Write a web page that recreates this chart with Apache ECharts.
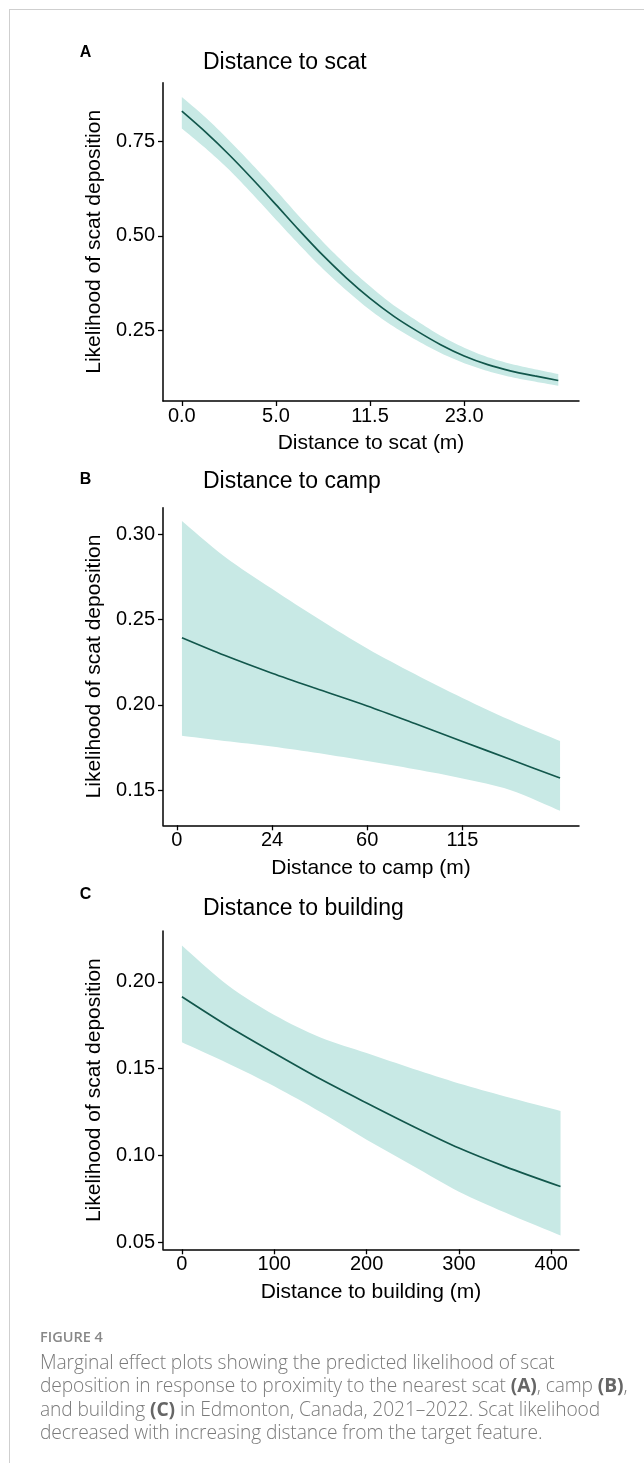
<!DOCTYPE html>
<html><head><meta charset="utf-8">
<script src="https://cdn.jsdelivr.net/npm/echarts@6/dist/echarts.min.js"></script>
<style>
html,body{margin:0;padding:0;background:#fff;}
#frame{position:absolute;left:9px;top:9px;width:640px;height:1460px;border-left:1px solid #cfcfcf;border-top:1px solid #cfcfcf;}
#chart{position:absolute;left:0;top:0;width:644px;height:1463px;}
#cap{position:absolute;left:40px;top:1326px;font-family:'Open Sans',sans-serif;color:#7a7a7a;}
.fig{font-size:14.5px;font-weight:600;color:#888;line-height:22px;}
.txt{font-size:19.2px;font-weight:300;line-height:23.3px;white-space:nowrap;margin-top:2px;letter-spacing:-0.1px;}
.txt b{font-weight:700;color:#666;}
</style></head>
<body>
<div id="frame"></div>
<div id="chart"></div>
<div id="cap"><div class="fig">FIGURE 4</div><div class="txt">Marginal effect plots showing the predicted likelihood of scat<br>deposition in response to proximity to the nearest scat <b>(A)</b>, camp <b>(B)</b>,<br>and building <b>(C)</b> in Edmonton, Canada, 2021–2022. Scat likelihood<br>decreased with increasing distance from the target feature.</div></div>
<script>
// ---- Panel A: distance to scat (x on transformed scale positions) ----
const xPosA = [0,0.25,0.5,0.75,1,1.25,1.5,1.75,2,2.25,2.5,2.75,3,3.25,3.5,3.75,4];
const fitA = [0.831,0.776,0.716,0.651,0.583,0.514,0.448,0.388,0.334,0.287,0.247,0.211,0.181,0.158,0.141,0.128,0.116];
const upA  = [0.869,0.815,0.754,0.689,0.621,0.551,0.484,0.422,0.366,0.316,0.274,0.235,0.203,0.178,0.160,0.146,0.133];
const lowA = [0.785,0.733,0.676,0.611,0.543,0.476,0.412,0.355,0.303,0.259,0.222,0.189,0.162,0.141,0.125,0.113,0.102];
const xTickPosA = [0,1,2,3];
const xTickLabA = ['0.0','5.0','11.5','23.0'];
const yTicksA = [0.25,0.5,0.75];

// ---- Panel B: distance to camp ----
const xPosB = [0.054,0.5,1,1.5,2,2.5,3,3.5,4.025];
const fitB = [0.2393,0.2290,0.2185,0.2088,0.1993,0.1890,0.1785,0.1680,0.1570];
const upB  = [0.3078,0.2870,0.2680,0.2500,0.2330,0.2180,0.2040,0.1910,0.1787];
const lowB = [0.1818,0.1788,0.1755,0.1715,0.1670,0.1622,0.1568,0.1500,0.1378];
const xTickPosB = [0,1,2,3];
const xTickLabB = ['0','24','60','115'];
const yTicksB = [0.15,0.2,0.25,0.3];

// ---- Panel C: distance to building (m) ----
const xPosC = [0,50,100,150,200,250,300,350,410];
const fitC = [0.1915,0.1745,0.1590,0.1440,0.1302,0.1168,0.1042,0.0935,0.0820];
const upC  = [0.2210,0.1980,0.1810,0.1680,0.1590,0.1500,0.1415,0.1340,0.1256];
const lowC = [0.1652,0.1530,0.1398,0.1250,0.1090,0.0940,0.0790,0.0670,0.0538];
const xTickPosC = [0,100,200,300,400];
const xTickLabC = ['0','100','200','300','400'];
const yTicksC = [0.05,0.1,0.15,0.2];

const panels = [
  {letter:'A', title:'Distance to scat', xName:'Distance to scat (m)', x:xPosA, fit:fitA, up:upA, low:lowA,
   xt:xTickPosA, xl:xTickLabA, yt:yTicksA, xmin:-0.2, xmax:4.22, ymin:0.0615, ymax:0.9067,
   top:82.7, h:318.3, ly:53, ty:63},
  {letter:'B', title:'Distance to camp', xName:'Distance to camp (m)', x:xPosB, fit:fitB, up:upB, low:lowB,
   xt:xTickPosB, xl:xTickLabB, yt:yTicksB, xmin:-0.145, xmax:4.224, ymin:0.1293, ymax:0.3156,
   top:507.7, h:317.6, ly:480, ty:481.7},
  {letter:'C', title:'Distance to building', xName:'Distance to building (m)', x:xPosC, fit:fitC, up:upC, low:lowC,
   xt:xTickPosC, xl:xTickLabC, yt:yTicksC, xmin:-20.5, xmax:430, ymin:0.0458, ymax:0.2294,
   top:931, h:318.3, ly:895, ty:908.3}
];

const FONT = 'Liberation Sans, Arial, sans-serif';
const LINE = '#12574c';
const BAND = '#c8e9e5';

// Catmull-Rom smoothing of pixel points (rendering only)
function smoothPts(P){
  const out=[]; const n=P.length; const SEG=8;
  for(let i=0;i<n-1;i++){
    const p0=P[Math.max(i-1,0)], p1=P[i], p2=P[i+1], p3=P[Math.min(i+2,n-1)];
    for(let s=0;s<SEG;s++){
      const t=s/SEG, t2=t*t, t3=t2*t;
      out.push([0,1].map(d=>0.5*((2*p1[d])+(-p0[d]+p2[d])*t+(2*p0[d]-5*p1[d]+4*p2[d]-p3[d])*t2+(-p0[d]+3*p1[d]-3*p2[d]+p3[d])*t3)));
    }
  }
  out.push(P[n-1]);
  return out;
}

const grid=[], xAxis=[], yAxis=[], series=[], graphic=[];
panels.forEach((p,i)=>{
  grid.push({left:163, top:p.top, width:416, height:p.h, containLabel:false});
  const lbl = {};
  p.xt.forEach((v,k)=>{ lbl[v]=p.xl[k]; });
  xAxis.push({type:'value', gridIndex:i, min:p.xmin, max:p.xmax,
    name:p.xName, nameLocation:'middle', nameGap:32,
    nameTextStyle:{fontFamily:FONT, fontSize:21, color:'#000'},
    axisLine:{onZero:false, lineStyle:{color:'#000', width:1.5}},
    axisTick:{customValues:p.xt, length:5, lineStyle:{color:'#000', width:1.3}},
    axisLabel:{customValues:p.xt, margin:5, fontFamily:FONT, fontSize:20, color:'#000',
      formatter:(v)=> lbl[v]!==undefined ? lbl[v] : ''},
    splitLine:{show:false}});
  yAxis.push({type:'value', gridIndex:i, min:p.ymin, max:p.ymax,
    name:'Likelihood of scat deposition', nameLocation:'middle', nameGap:46, nameRotate:90,
    nameTextStyle:{fontFamily:FONT, fontSize:21, color:'#000'},
    axisLine:{show:true, onZero:false, lineStyle:{color:'#000', width:1.5}},
    axisTick:{show:true, customValues:p.yt, length:5, lineStyle:{color:'#000', width:1.3}},
    axisLabel:{customValues:p.yt, margin:8, fontFamily:FONT, fontSize:20, color:'#000',
      formatter:(v)=> v.toFixed(2)},
    splitLine:{show:false}});
  // confidence ribbon: one polygon built through the axis scales (api.coord)
  series.push({type:'custom', xAxisIndex:i, yAxisIndex:i, silent:true, z:1,
    data:[[p.x[0], p.fit[0]]],
    renderItem:(params, api)=>{
      const up = smoothPts(p.x.map((x,k)=>api.coord([x, p.up[k]])));
      const lo = smoothPts(p.x.map((x,k)=>api.coord([x, p.low[k]])));
      const pts = up.concat(lo.reverse());
      return {type:'polygon', shape:{points:pts}, style:{fill:BAND, stroke:null}};
    }});
  series.push({type:'line', xAxisIndex:i, yAxisIndex:i, symbol:'none', silent:true,
    lineStyle:{color:LINE, width:1.7}, data:p.x.map((x,k)=>[x,p.fit[k]]), smooth:0.3, z:5});
  graphic.push({type:'text', x:85.5, y:p.ly, style:{text:p.letter, font:'bold 16px '+FONT, fill:'#000', textAlign:'center', textVerticalAlign:'middle'}});
  graphic.push({type:'text', x:203, y:p.ty, style:{text:p.title, font:'23px '+FONT, fill:'#000', textAlign:'left', textVerticalAlign:'middle'}});
});

const chart = echarts.init(document.getElementById('chart'), null, {renderer:'canvas'});
chart.setOption({animation:false, backgroundColor:'transparent', grid, xAxis, yAxis, series, graphic});
</script>
</body></html>
